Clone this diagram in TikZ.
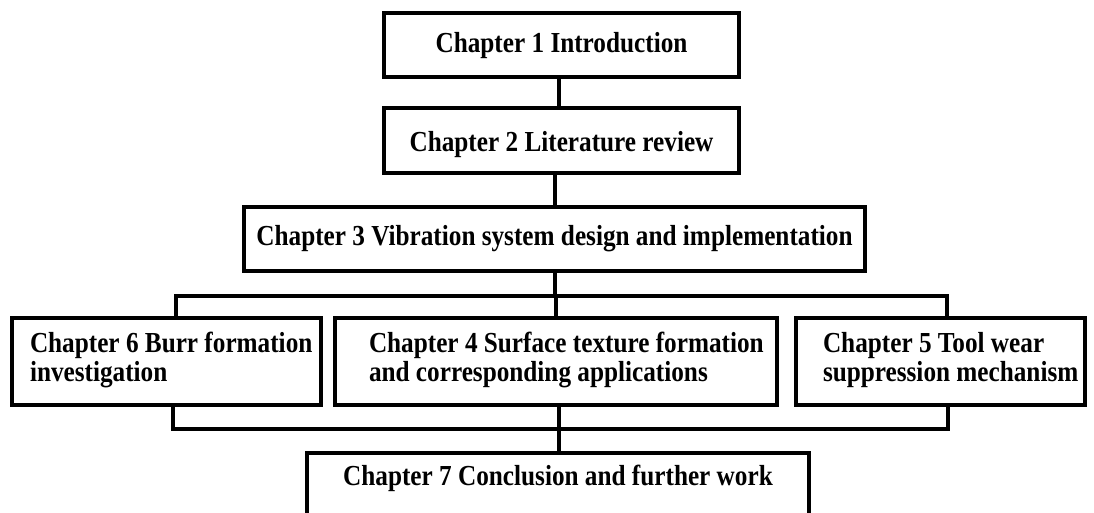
\documentclass[tikz,border=0pt]{standalone}
\usepackage{fontspec}
\setmainfont{Liberation Serif}[FakeStretch=0.87]
\newcommand{\twolines}[4]{\makebox[#1][l]{\hspace*{#2}\begin{tabular}[t]{@{}l@{}}#3\\#4\end{tabular}}}
\begin{document}
\begin{tikzpicture}[x=1pt,y=-1pt,
  lw/.style={line width=3.2pt},
  box/.style={draw, lw, inner sep=0pt, font=\bfseries\fontsize{29}{29}\selectfont},
  onebox/.style={box, align=center},
  twobox/.style={box, text height=34pt, text depth=53pt},
  conn/.style={draw, lw, line join=miter}]
\useasboundingbox (0,0) rectangle (1094,513);
\clip (0,0) rectangle (1094,513);
% boxes
\node[onebox, minimum width=355pt, text height=40pt, text depth=24pt] (ch1) at (561.5,45) {Chapter 1 Introduction};
\node[onebox, minimum width=355pt, text height=44pt, text depth=21pt] (ch2) at (561.5,140.5) {Chapter 2 Literature review};
\node[onebox, minimum width=621pt, text height=38pt, text depth=26pt] (ch3) at (554.5,239) {Chapter 3 Vibration system design and implementation};
\node[twobox] (ch6) at (166.5,361.5) {\twolines{309pt}{18pt}{Chapter 6 Burr formation}{investigation}};
\node[twobox] (ch4) at (556,361.5) {\twolines{442pt}{34pt}{Chapter 4 Surface texture formation}{and corresponding applications}};
\node[twobox] (ch5) at (940.5,361.5) {\twolines{289pt}{27pt}{Chapter 5 Tool wear}{suppression mechanism}};
\node[onebox, minimum width=502pt, text height=32pt, text depth=70pt] (ch7) at (558,504) {Chapter 7 Conclusion and further work};
% helper coordinates
\coordinate (L1) at (176,296);
\coordinate (R1) at (947,296);
\coordinate (L2) at (173,429);
\coordinate (R2) at (948,429);
\coordinate (S1) at (559,0);
\coordinate (S2) at (555,0);
\coordinate (S3) at (556,0);
\coordinate (S4) at (559,0);
% connectors
\path[conn] (ch1.south -| S1) -- (ch2.north -| S1);
\path[conn] (ch2.south -| S2) -- (ch3.north -| S2);
\path[conn] (ch3.south -| S2) -- (S2 |- L1);
\path[conn] (ch6.north -| L1) -- (L1) -- (R1) -- (ch5.north -| R1);
\path[conn] (S3 |- L1) -- (ch4.north -| S3);
\path[conn] (ch6.south -| L2) -- (L2) -- (R2) -- (ch5.south -| R2);
\path[conn] (ch4.south -| S4) -- (ch7.north -| S4);
\end{tikzpicture}
\end{document}
